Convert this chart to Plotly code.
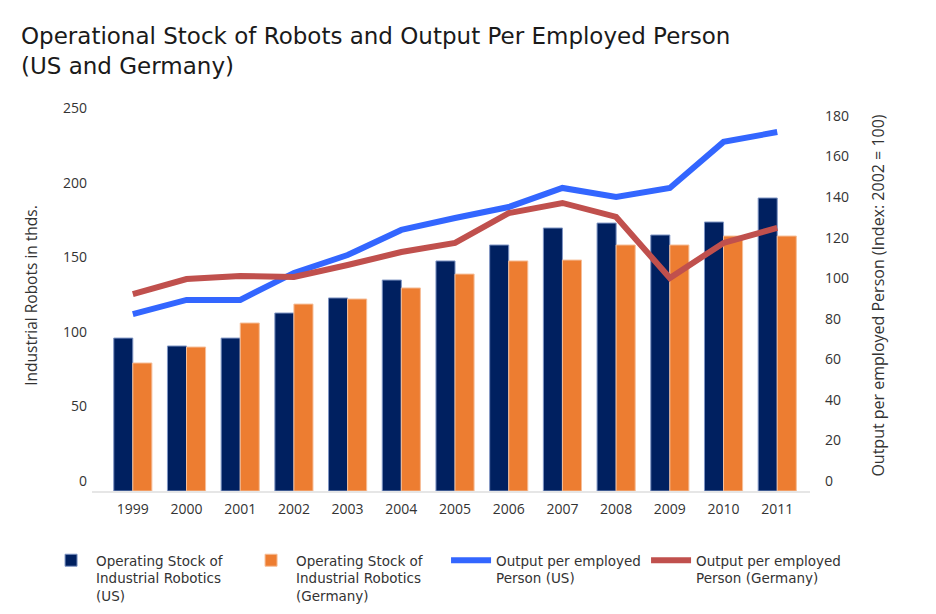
import plotly.graph_objects as go

years = ["1999", "2000", "2001", "2002", "2003", "2004", "2005",
         "2006", "2007", "2008", "2009", "2010", "2011"]

# Operating stock of industrial robots (thousands)
stock_us = [102.5, 97.2, 102.5, 119.3, 129.4, 141.4, 154.2,
            164.9, 176.3, 179.6, 171.6, 180.3, 196.4]
stock_de = [85.8, 96.5, 112.6, 125.3, 128.7, 136.1, 145.4,
            154.2, 154.8, 164.9, 164.9, 170.9, 170.9]

# Output per employed person (index 2002 = 100)
output_us = [82.3, 89.3, 89.3, 102.6, 111.4, 123.8, 129.7,
             135.1, 144.5, 140.0, 144.5, 167.2, 172.1]
output_de = [92.2, 99.6, 101.1, 100.6, 106.5, 112.9, 117.4,
             132.1, 137.1, 130.2, 100.1, 117.4, 124.8]

FONT = "Open Sans"
WIDE = "DejaVu Sans"
TXT = "#333333"

fig = go.Figure()

fig.add_trace(go.Bar(
    x=years, y=stock_us, name="Operating Stock of<br>Industrial Robotics<br>(US)",
    marker=dict(color="#002060", line=dict(color="#7F95C4", width=1)),
    yaxis="y", legendrank=1,
))
fig.add_trace(go.Bar(
    x=years, y=stock_de, name="Operating Stock of<br>Industrial Robotics<br>(Germany)",
    marker=dict(color="#ED7D31", line=dict(color="#F6BE98", width=1)),
    yaxis="y", legendrank=2,
))
fig.add_trace(go.Scatter(
    x=years, y=output_us, name="Output per employed<br>Person (US)",
    mode="lines", line=dict(color="#3366FF", width=6),
    yaxis="y2", legendrank=3,
))
fig.add_trace(go.Scatter(
    x=years, y=output_de, name="Output per employed<br>Person (Germany)",
    mode="lines", line=dict(color="#C0504D", width=6),
    yaxis="y2", legendrank=4,
))

fig.update_layout(
    width=928, height=606,
    paper_bgcolor="white", plot_bgcolor="white",
    font=dict(family=FONT, size=14, color=TXT),
    margin=dict(l=84, r=126, t=92, b=123, autoexpand=False),
    title=dict(
        text="Operational Stock of Robots and Output Per Employed Person<br>(US and Germany)",
        x=0.014, xanchor="left", y=0.94, yanchor="top",
        font=dict(family=WIDE, size=23, color="#1a1a1a"),
    ),
    barmode="group", bargap=0.29, bargroupgap=0.0,
    xaxis=dict(
        type="category", range=[-0.76, 12.61],
        showline=True, linecolor="#E6E6E6", linewidth=2,
        showgrid=False, ticks="", tickfont=dict(size=14, color=TXT),
        ticklabelstandoff=4,
        fixedrange=True,
    ),
    yaxis=dict(
        range=[0, 262.1], tickvals=[0, 50, 100, 150, 200, 250],
        showgrid=False, zeroline=False, showline=False, ticks="",
        ticklabelshift=-10, ticklabelstandoff=4,
        tickfont=dict(size=14, color=TXT),
        title=dict(text="Industrial Robots in thds.", standoff=21,
                   font=dict(size=15.5, color=TXT)),
    ),
    yaxis2=dict(
        overlaying="y", side="right",
        range=[-4.93, 187.87], tickvals=list(range(0, 181, 20)),
        showgrid=False, zeroline=False, showline=False, ticks="",
        ticklabelstandoff=14,
        tickfont=dict(size=14, color=TXT),
        title=dict(text="Output per employed Person (Index: 2002 = 100)", standoff=24,
                   font=dict(size=16, color=TXT)),
    ),
    legend=dict(
        orientation="h", x=-0.064, xanchor="left", y=-0.138, yanchor="top",
        font=dict(family=WIDE, size=13.5, color=TXT), itemwidth=40,
        entrywidth=145, entrywidthmode="pixels",
        traceorder="normal", valign="top",
    ),
    showlegend=True,
)

fig.write_html("out.html")
